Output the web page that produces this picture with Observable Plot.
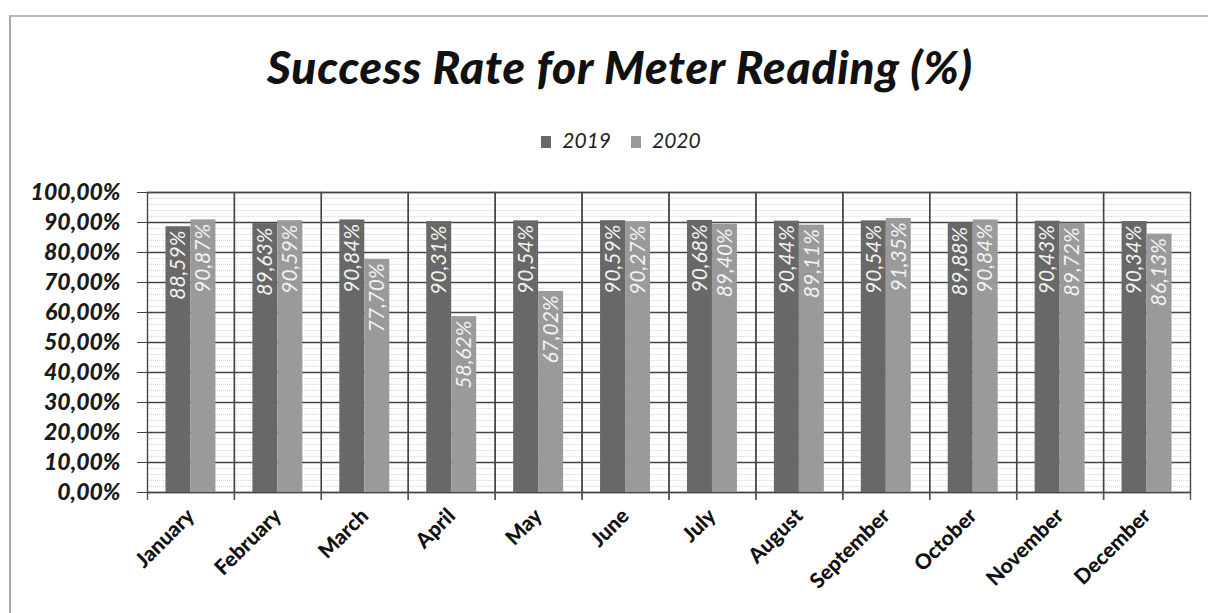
<!DOCTYPE html>
<html>
<head>
<meta charset="utf-8">
<script src="https://cdn.jsdelivr.net/npm/d3@7"></script>
<script src="https://cdn.jsdelivr.net/npm/@observablehq/plot@0.6"></script>
<style>
  html, body { margin: 0; padding: 0; background: #fff; }
  #page { position: relative; width: 1208px; height: 613px; overflow: hidden; }
  #border { position: absolute; left: 9px; top: 15px; right: -2px; bottom: -2px;
            border-left: 2px solid #a8a8a8; border-top: 2px solid #b8b8b8; }
  #title { position: absolute; left: 0; width: 1240px; top: 39px; text-align: center;
           font-family: Lato, "Open Sans", sans-serif; font-weight: 900; font-style: italic;
           font-size: 46px; color: #111; letter-spacing: 0.8px; }
  #legend { position: absolute; left: 0; width: 1242px; top: 127px; text-align: center;
            font-family: Lato, sans-serif; font-style: italic; font-size: 21px; color: #222; }
  #legend span.sw { display: inline-block; width: 10px; height: 12px; margin-right: 11px; vertical-align: 0px; }
  #legend span.item { margin: 0 10px; }
  #chart { position: absolute; left: 0; top: 170px; }
</style>
</head>
<body>
<div id="page">
  <div id="border"></div>
  <div id="title">Success Rate for Meter Reading (%)</div>
  <div id="legend"></div>
  <div id="chart"></div>
</div>
<script>
// Monthly meter-reading success rate, in percent
const months = ["January", "February", "March", "April", "May", "June",
                "July", "August", "September", "October", "November", "December"];
const years = ["2019", "2020"];
const rate2019 = [88.59, 89.63, 90.84, 90.31, 90.54, 90.59, 90.68, 90.44, 90.54, 89.88, 90.43, 90.34];
const rate2020 = [90.87, 90.59, 77.70, 58.62, 67.02, 90.27, 89.40, 89.11, 91.35, 90.84, 89.72, 86.13];
const yTicks = [0, 10, 20, 30, 40, 50, 60, 70, 80, 90, 100];
const colors = ["#686868", "#9a9a9a"];

const rows = months.flatMap((m, i) => [
  {month: m, year: years[0], value: rate2019[i]},
  {month: m, year: years[1], value: rate2020[i]}
]);

const fmt = v => v.toFixed(2).replace(".", ",") + "%";

const W = 1208, H = 443, ML = 147, MR = 18, MT = 22, MB = 121;
const step = (W - ML - MR) / months.length;
const minor = d3.range(0, 101, 2).filter(v => v % 10 !== 0);

const chart = Plot.plot({
  width: W, height: H,
  marginLeft: ML, marginRight: MR, marginTop: MT, marginBottom: MB,
  style: {background: "transparent"},
  fx: {domain: months, padding: 0, round: false, label: null},
  x: {domain: years, type: "band", paddingInner: 0, paddingOuter: 0.74, round: false, axis: null},
  y: {domain: [0, 100], label: null, axis: null},
  color: {domain: years, range: colors},
  marks: [
    // fine minor grid
    Plot.ruleY(minor, {stroke: "#d4d4d4", strokeWidth: 1, strokeDasharray: "1,1"}),
    // major horizontal grid
    Plot.ruleY(yTicks, {stroke: "#454545", strokeWidth: 1.4}),
    // category boundaries
    Plot.frame({stroke: "#454545", strokeWidth: 1.4}),
    // boundary ticks below the category axis
    Plot.ruleX(months, {fx: d => d, x: null, y1: 0, y2: 0, insetBottom: -8, dx: -step / 2, stroke: "#555", strokeWidth: 1.4}),
    Plot.ruleX(months, {fx: d => d, x: null, y1: 0, y2: 0, insetBottom: -8, dx: step / 2, stroke: "#555", strokeWidth: 1.4}),
    Plot.barY(rows, {fx: "month", x: "year", y: "value", fill: "year"}),
    Plot.text(rows, {
      fx: "month", x: "year", y: "value", text: d => fmt(d.value),
      rotate: -90, textAnchor: "end", dy: 4, fill: "#f2f2f2",
      fontFamily: "Lato, sans-serif", fontStyle: "italic", fontSize: 21
    }),
    Plot.axisY(yTicks, {
      anchor: "left", tickSize: 10, tickPadding: 17, tickFormat: fmt,
      fontFamily: "Lato, sans-serif", fontStyle: "italic", fontWeight: 900,
      fontSize: 23, fill: "#1a1a1a", stroke: "#454545", label: null
    }),
    Plot.axisFx({
      anchor: "bottom", tickSize: 0, tickPadding: 20, tickRotate: -45,
      fontFamily: "Lato, sans-serif", fontWeight: 900, fontSize: 21, fill: "#111",
      label: null
    })
  ]
});

document.getElementById("chart").appendChild(chart);

const legend = document.getElementById("legend");
years.forEach((y, i) => {
  const item = document.createElement("span");
  item.className = "item";
  const sw = document.createElement("span");
  sw.className = "sw";
  sw.style.background = colors[i];
  item.appendChild(sw);
  item.appendChild(document.createTextNode(y));
  legend.appendChild(item);
});
</script>
</body>
</html>
